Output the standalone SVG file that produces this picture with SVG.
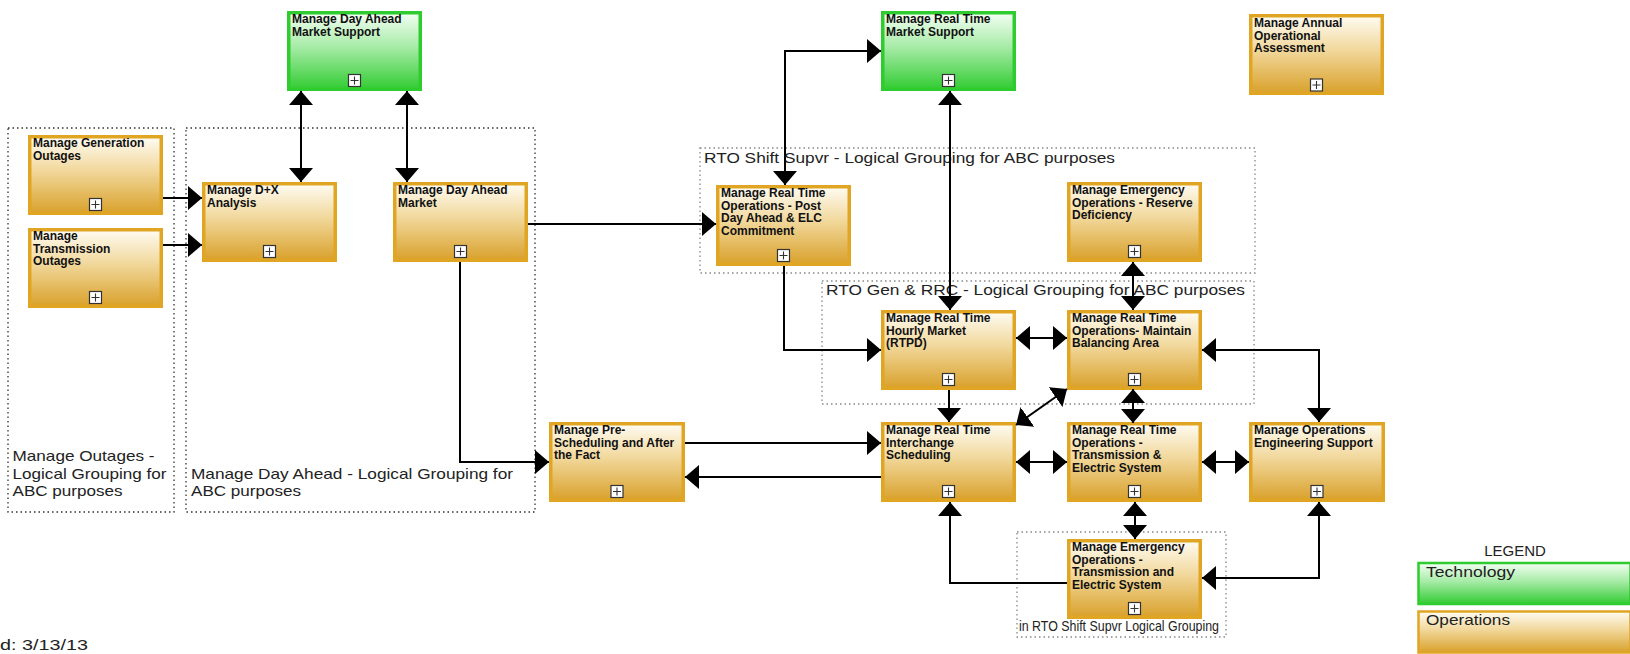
<svg xmlns="http://www.w3.org/2000/svg" width="1630" height="654" viewBox="0 0 1630 654">
<defs>
<linearGradient id="gOps" x1="0" y1="0" x2="0" y2="1">
<stop offset="0" stop-color="#FFFCF3"/>
<stop offset="0.45" stop-color="#F1D79A"/>
<stop offset="1" stop-color="#D9A12B"/>
</linearGradient>
<linearGradient id="gTech" x1="0" y1="0" x2="0" y2="1">
<stop offset="0" stop-color="#F4FFF4"/>
<stop offset="0.45" stop-color="#A6EBA6"/>
<stop offset="1" stop-color="#33CC33"/>
</linearGradient>
<marker id="ah" viewBox="0 0 14 24" markerWidth="14" markerHeight="24" refX="14" refY="12" orient="auto-start-reverse" markerUnits="userSpaceOnUse">
<path d="M0,0 L14,12 L0,24 Z" fill="#000"/>
</marker>
<g id="plus">
<rect x="-6" y="-6" width="12" height="12" fill="#fff" stroke="#333" stroke-width="1.2"/>
<path d="M-4,0 H4 M0,-4 V4" stroke="#333" stroke-width="1.1"/>
</g>
</defs>
<style>
.ops{fill:url(#gOps);stroke:#E0A522;stroke-width:3.5}
.tech{fill:url(#gTech);stroke:#2FCC2F;stroke-width:3.5}
.nt{font-family:"Liberation Sans",Arial,sans-serif;font-weight:bold;font-size:12px;fill:#111}
.grp{fill:none;stroke:#333;stroke-width:1.3;stroke-dasharray:1.5 3}
.grp2{fill:none;stroke:#888;stroke-width:1.3;stroke-dasharray:1.5 3}
.gl{font-family:"Liberation Sans",Arial,sans-serif;font-size:15px;fill:#222}
.cn{fill:none;stroke:#000;stroke-width:2}
.one{marker-end:url(#ah)}
.two{marker-start:url(#ah);marker-end:url(#ah)}
</style>
<rect width="1630" height="654" fill="#fff"/>

<g id="groups">
<g id="grp-outages">
<rect class="grp" x="8" y="128" width="166" height="384"/>
<text class="gl" x="12.5" y="461" textLength="142" lengthAdjust="spacingAndGlyphs">Manage Outages -</text>
<text class="gl" x="12.5" y="478.5" textLength="154" lengthAdjust="spacingAndGlyphs">Logical Grouping for</text>
<text class="gl" x="12.5" y="496" textLength="110" lengthAdjust="spacingAndGlyphs">ABC purposes</text>
</g>
<g id="grp-dayahead">
<rect class="grp" x="186" y="128" width="349" height="384"/>
<text class="gl" x="191" y="478.5" textLength="322" lengthAdjust="spacingAndGlyphs">Manage Day Ahead - Logical Grouping for</text>
<text class="gl" x="191" y="496" textLength="110" lengthAdjust="spacingAndGlyphs">ABC purposes</text>
</g>
<g id="grp-shift">
<rect class="grp2" x="700" y="148" width="555" height="125"/>
<text class="gl" x="704" y="163" font-size="16" textLength="411" lengthAdjust="spacingAndGlyphs">RTO Shift Supvr - Logical Grouping for ABC purposes</text>
</g>
<g id="grp-gen">
<rect class="grp2" x="822" y="281" width="432" height="123"/>
<text class="gl" x="826" y="295" font-size="16" textLength="419" lengthAdjust="spacingAndGlyphs">RTO Gen &amp; RRC - Logical Grouping for ABC purposes</text>
</g>
<g id="grp-inshift">
<rect class="grp2" x="1017" y="532" width="209" height="105"/>
<text class="gl" x="1019" y="631" font-size="11" textLength="200" lengthAdjust="spacingAndGlyphs">in RTO Shift Supvr Logical Grouping</text>
</g>
</g>

<g id="n-da-support">
<rect class="tech" x="288.75" y="12.75" width="131.5" height="76.5"/>
<text class="nt" x="292" y="23">Manage Day Ahead</text>
<text class="nt" x="292" y="35.7">Market Support</text>
<use href="#plus" x="354.5" y="80.5"/>
</g>
<g id="n-rt-support">
<rect class="tech" x="882.75" y="12.75" width="131.5" height="76.5"/>
<text class="nt" x="886" y="23">Manage Real Time</text>
<text class="nt" x="886" y="35.7">Market Support</text>
<use href="#plus" x="948.5" y="80.5"/>
</g>
<g id="n-annual">
<rect class="ops" x="1250.75" y="15.75" width="131.5" height="77.5"/>
<text class="nt" x="1254" y="27">Manage Annual</text>
<text class="nt" x="1254" y="39.7">Operational</text>
<text class="nt" x="1254" y="52.4">Assessment</text>
<use href="#plus" x="1316.5" y="85"/>
</g>
<g id="n-gen-outages">
<rect class="ops" x="29.75" y="136.75" width="131.5" height="76.5"/>
<text class="nt" x="33" y="147">Manage Generation</text>
<text class="nt" x="33" y="159.7">Outages</text>
<use href="#plus" x="95.5" y="204.5"/>
</g>
<g id="n-trans-outages">
<rect class="ops" x="29.75" y="229.75" width="131.5" height="76.5"/>
<text class="nt" x="33" y="240">Manage</text>
<text class="nt" x="33" y="252.7">Transmission</text>
<text class="nt" x="33" y="265.4">Outages</text>
<use href="#plus" x="95.5" y="297.5"/>
</g>
<g id="n-dx">
<rect class="ops" x="203.75" y="183.75" width="131.5" height="76.5"/>
<text class="nt" x="207" y="194">Manage D+X</text>
<text class="nt" x="207" y="206.7">Analysis</text>
<use href="#plus" x="269.5" y="251.5"/>
</g>
<g id="n-da-market">
<rect class="ops" x="394.75" y="183.75" width="131.5" height="76.5"/>
<text class="nt" x="398" y="194">Manage Day Ahead</text>
<text class="nt" x="398" y="206.7">Market</text>
<use href="#plus" x="460.5" y="251.5"/>
</g>
<g id="n-post-da">
<rect class="ops" x="717.75" y="186.75" width="131.5" height="77.5"/>
<text class="nt" x="721" y="197">Manage Real Time</text>
<text class="nt" x="721" y="209.7">Operations - Post</text>
<text class="nt" x="721" y="222.4">Day Ahead &amp; ELC</text>
<text class="nt" x="721" y="235.1">Commitment</text>
<use href="#plus" x="783.5" y="255.5"/>
</g>
<g id="n-emerg-reserve">
<rect class="ops" x="1068.75" y="183.75" width="131.5" height="76.5"/>
<text class="nt" x="1072" y="194">Manage Emergency</text>
<text class="nt" x="1072" y="206.7">Operations - Reserve</text>
<text class="nt" x="1072" y="219.4">Deficiency</text>
<use href="#plus" x="1134.5" y="251.5"/>
</g>
<g id="n-hourly">
<rect class="ops" x="882.75" y="311.75" width="131.5" height="76.5"/>
<text class="nt" x="886" y="322">Manage Real Time</text>
<text class="nt" x="886" y="334.7">Hourly Market</text>
<text class="nt" x="886" y="347.4">(RTPD)</text>
<use href="#plus" x="948.5" y="379.5"/>
</g>
<g id="n-maintain">
<rect class="ops" x="1068.75" y="311.75" width="131.5" height="76.5"/>
<text class="nt" x="1072" y="322">Manage Real Time</text>
<text class="nt" x="1072" y="334.7">Operations- Maintain</text>
<text class="nt" x="1072" y="347.4">Balancing Area</text>
<use href="#plus" x="1134.5" y="379.5"/>
</g>
<g id="n-presched">
<rect class="ops" x="550.75" y="423.75" width="132.5" height="76.5"/>
<text class="nt" x="554" y="434">Manage Pre-</text>
<text class="nt" x="554" y="446.7">Scheduling and After</text>
<text class="nt" x="554" y="459.4">the Fact</text>
<use href="#plus" x="617" y="491.5"/>
</g>
<g id="n-interchange">
<rect class="ops" x="882.75" y="423.75" width="131.5" height="76.5"/>
<text class="nt" x="886" y="434">Manage Real Time</text>
<text class="nt" x="886" y="446.7">Interchange</text>
<text class="nt" x="886" y="459.4">Scheduling</text>
<use href="#plus" x="948.5" y="491.5"/>
</g>
<g id="n-trans-es">
<rect class="ops" x="1068.75" y="423.75" width="131.5" height="76.5"/>
<text class="nt" x="1072" y="434">Manage Real Time</text>
<text class="nt" x="1072" y="446.7">Operations -</text>
<text class="nt" x="1072" y="459.4">Transmission &amp;</text>
<text class="nt" x="1072" y="472.1">Electric System</text>
<use href="#plus" x="1134.5" y="491.5"/>
</g>
<g id="n-ops-eng">
<rect class="ops" x="1250.75" y="423.75" width="132.5" height="76.5"/>
<text class="nt" x="1254" y="434">Manage Operations</text>
<text class="nt" x="1254" y="446.7">Engineering Support</text>
<use href="#plus" x="1317" y="491.5"/>
</g>
<g id="n-emerg-te">
<rect class="ops" x="1068.75" y="540.75" width="131.5" height="76.5"/>
<text class="nt" x="1072" y="551">Manage Emergency</text>
<text class="nt" x="1072" y="563.7">Operations -</text>
<text class="nt" x="1072" y="576.4">Transmission and</text>
<text class="nt" x="1072" y="589.1">Electric System</text>
<use href="#plus" x="1134.5" y="608.5"/>
</g>

<g id="connectors">
<path class="cn one" d="M163,198 H202"/>
<path class="cn one" d="M163,245 H202"/>
<path class="cn two" d="M301,91 V182"/>
<path class="cn two" d="M407,91 V182"/>
<path class="cn one" d="M528,224 H716"/>
<path class="cn one" d="M460,262 V462 H549"/>
<path class="cn two" d="M785,185 V51 H881"/>
<path class="cn two" d="M950,91 V310"/>
<path class="cn one" d="M784,266 V350 H881"/>
<path class="cn two" d="M1016,338 H1067"/>
<path class="cn one" d="M949,390 V422"/>
<path class="cn two" d="M1016,425 L1067,389"/>
<path class="cn two" d="M1133,389 V423"/>
<path class="cn two" d="M1133,262 V310"/>
<path class="cn two" d="M1202,350 H1319 V422"/>
<path class="cn one" d="M685,443 H881"/>
<path class="cn one" d="M881,477 H685"/>
<path class="cn two" d="M1016,462 H1067"/>
<path class="cn two" d="M1202,462 H1249"/>
<path class="cn two" d="M1135,502 V539"/>
<path class="cn one" d="M1067,583 H950 V502"/>
<path class="cn two" d="M1202,578 H1319 V502"/>
</g>

<g id="legend">
<text class="gl" x="1515" y="556" font-size="13" text-anchor="middle" fill="#333">LEGEND</text>
<rect x="1418.5" y="563" width="212" height="41" fill="url(#gTech)" stroke="#2FCC2F" stroke-width="2.5"/>
<text class="gl" x="1426" y="577" font-size="14" textLength="89" lengthAdjust="spacingAndGlyphs" fill="#333">Technology</text>
<rect x="1418.5" y="611.5" width="212" height="41" fill="url(#gOps)" stroke="#E0A522" stroke-width="2.5"/>
<text class="gl" x="1426" y="625" font-size="14" textLength="84" lengthAdjust="spacingAndGlyphs" fill="#333">Operations</text>
</g>

<text id="footer" class="gl" x="0" y="650" font-size="16" textLength="88" lengthAdjust="spacingAndGlyphs">d: 3/13/13</text>
</svg>
